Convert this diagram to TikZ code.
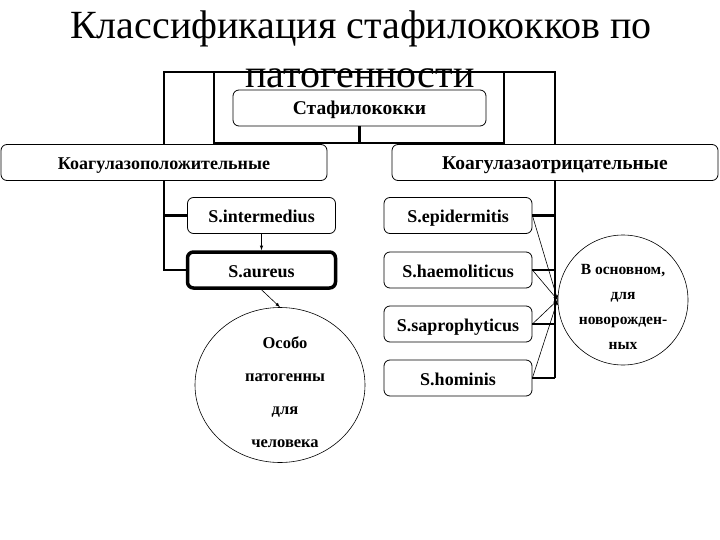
\documentclass[tikz,border=0pt]{standalone}
\usepackage{fontspec}
\setmainfont{Liberation Serif}
\usetikzlibrary{shapes.geometric}
\tikzset{
  box/.style={
    draw,
    rounded corners=6pt,
    line width=0.8pt,
    inner sep=0pt,
    minimum height=36pt,
    text height=14pt,
    text depth=0pt,
    font=\bfseries\fontsize{18}{20}\selectfont
  },
  sbox/.style={
    box,
    minimum width=148pt,
    font=\bfseries\fontsize{18}{20}\selectfont
  },
  bus/.style={
    line width=2.6pt
  },
  link/.style={
    -latex,
    line width=0.6pt
  },
  note/.style={
    align=center,
    font=\bfseries\fontsize{16.5}{33}\selectfont
  }
}
\begin{document}
\begin{tikzpicture}[x=1pt,y=-1pt]
  \useasboundingbox (0,0) rectangle (720,540);
  % top
  \node[box,minimum width=253pt,font=\bfseries\fontsize{19.5}{20}\selectfont] (staph) at (359.5,108) {Стафилококки};
  \node[box,minimum width=326pt] (pos) at (164,162.5) {Коагулазоположительные};
  \node[box,minimum width=326pt,font=\bfseries\fontsize{19.5}{20}\selectfont] (neg) at (555,162.5) {Коагулазаотрицательные};
  \coordinate (top) at (0,72);
  \coordinate (low) at (0,143);
  \draw[bus] (pos.north) -- (pos.north |- top) -- (neg.north |- top) -- (neg.north);
  \draw[bus] (214,72) rectangle (504,143);
  \draw[bus] (staph.south) -- (staph.south |- low);
  % left branch
  \node[sbox] (inter) at (261.5,215.5) {S.intermedius};
  \node[sbox,line width=3.5pt] (aureus) at (261.5,270) {S.aureus};
  \node[draw,ellipse,line width=0.6pt,minimum width=170pt,minimum height=155pt] (human) at (280,385) {};
  \node[note] (humantxt) at (285,392) {Особо\\патогенны\\для\\человека};
  \draw[bus] (pos.south) |- (aureus.west);
  \draw[bus] (pos.south |- inter.west) -- (inter.west);
  \draw[link] (inter.south) -- (aureus.north);
  \draw[link] (aureus.south) -- (human.north);
  % right branch
  \node[draw,circle,line width=0.6pt,minimum width=130pt,inner sep=0pt] (newborn) at (623,300) {};
  \node[note,font=\bfseries\fontsize{15.5}{25}\selectfont] (newborntxt) at (623,307) {В основном,\\для\\новорожден-\\ных};
  \foreach \name/\y/\txt in {epi/215.5/S.epidermitis, haem/270/S.haemoliticus,
                             sapro/324/S.saprophyticus, homi/378/S.hominis}{
    \node[sbox] (\name) at (458,\y) {\txt};
    \draw[bus] (\name.east) -- (\name.east -| neg.south);
    \draw[link] (\name.east) -- (newborn.west);
  }
  \draw[bus] (neg.south) -- (neg.south |- homi.east);
  % title
  \node[anchor=base,font=\fontsize{40}{48}\selectfont] (title) at (361,39) {Классификация стафилококков по};
  \node[anchor=base,font=\fontsize{40}{48}\selectfont] (title2) at (360,88) {патогенности};
\end{tikzpicture}
\end{document}
